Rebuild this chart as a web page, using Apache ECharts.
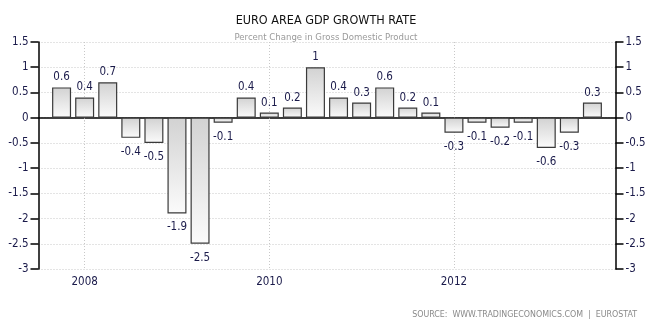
<!DOCTYPE html>
<html><head><meta charset="utf-8">
<script src="https://cdn.jsdelivr.net/npm/echarts@6/dist/echarts.min.js"></script>
<style>html,body{margin:0;padding:0;background:#fff}#c{width:652px;height:322px}</style>
</head><body><div id="c"></div>
<script>
var categories = ['2007Q3','2007Q4','2008Q1','2008Q2','2008Q3','2008Q4','2009Q1','2009Q2','2009Q3','2009Q4','2010Q1','2010Q2','2010Q3','2010Q4','2011Q1','2011Q2','2011Q3','2011Q4','2012Q1','2012Q2','2012Q3','2012Q4','2013Q1','2013Q2','2013Q3','2013Q4'];
var gdpGrowth = [null,0.6,0.4,0.7,-0.4,-0.5,-1.9,-2.5,-0.1,0.4,0.1,0.2,1,0.4,0.3,0.6,0.2,0.1,-0.3,-0.1,-0.2,-0.1,-0.6,-0.3,0.3,null];
var yTicks = [-3,-2.5,-2,-1.5,-1,-0.5,0,0.5,1,1.5];
var xTickLabels = ['2008','2010','2012'];

var FONT = '"DejaVu Sans Condensed","DejaVu Sans",sans-serif';
function isYearTick(i){ return !!categories[i] && categories[i].slice(4)==='Q1' && xTickLabels.indexOf(categories[i].slice(0,4))>=0; }
function yAxisBase(pos){ return {
  type:'value', position:pos, min:yTicks[0], max:yTicks[yTicks.length-1], interval:0.5,
  axisLine:{show:true,lineStyle:{color:'#000',width:1.5}},
  axisTick:{show:true,length:8,lineStyle:{color:'#000',width:1.5}},
  axisLabel:{color:'#1a1a4a',fontFamily:FONT,fontSize:11.5,margin:10},
  splitLine:{show:pos==='left',lineStyle:{color:'#c8c8c8',type:[1,2],width:1}}
};}
var dataItems = gdpGrowth.map(function(v){
  if(v==null) return v;
  return v<0 ? {value:v,label:{position:'bottom',distance:8}} : v;
});
var chart = echarts.init(document.getElementById('c'),null,{renderer:'canvas'});
chart.setOption({
  animation:false,
  backgroundColor:'#fff',
  title:[
    {text:'EURO AREA GDP GROWTH RATE',left:'center',top:9,textStyle:{fontFamily:FONT,fontSize:12.5,fontWeight:'normal',color:'#111'}},
    {text:'Percent Change in Gross Domestic Product',left:'center',top:28,textStyle:{fontFamily:FONT,fontSize:9.5,fontWeight:'normal',color:'#9a9a9a'}},
    {text:'SOURCE:  WWW.TRADINGECONOMICS.COM  |  EUROSTAT',right:10,top:305,textStyle:{fontFamily:FONT,fontSize:8.8,fontWeight:'normal',color:'#8a8a8a'}}
  ],
  grid:{left:38.5,right:36.5,top:42,bottom:53,containLabel:false},
  xAxis:{
    type:'category', data:categories, boundaryGap:false,
    axisLine:{show:true,lineStyle:{color:'#000',width:1.5}},
    axisTick:{show:true,interval:function(i){return isYearTick(i);},length:4,lineStyle:{color:'#ccc',type:[1,2]}},
    axisLabel:{interval:function(i){return isYearTick(i);},formatter:function(v){return v.slice(0,4);},color:'#1a1a4a',fontFamily:FONT,fontSize:11.5,margin:7},
    splitLine:{show:true,interval:function(i){return isYearTick(i);},lineStyle:{color:'#c8c8c8',type:[1,2],width:1}}
  },
  yAxis:[yAxisBase('left'),yAxisBase('right')],
  series:[{
    type:'bar', data:dataItems, barWidth:19,
    itemStyle:{borderColor:'#3a3a3a',borderWidth:1.2,
      color:new echarts.graphic.LinearGradient(0,0,0,1,[{offset:0,color:'#d2d2d2'},{offset:1,color:'#fbfbfb'}])},
    label:{show:true,fontFamily:FONT,fontSize:11.5,color:'#1a1a4a',distance:4,position:'top',
      formatter:function(p){return p.value==null?'':String(p.value);}}
  }]
});
</script></body></html>
